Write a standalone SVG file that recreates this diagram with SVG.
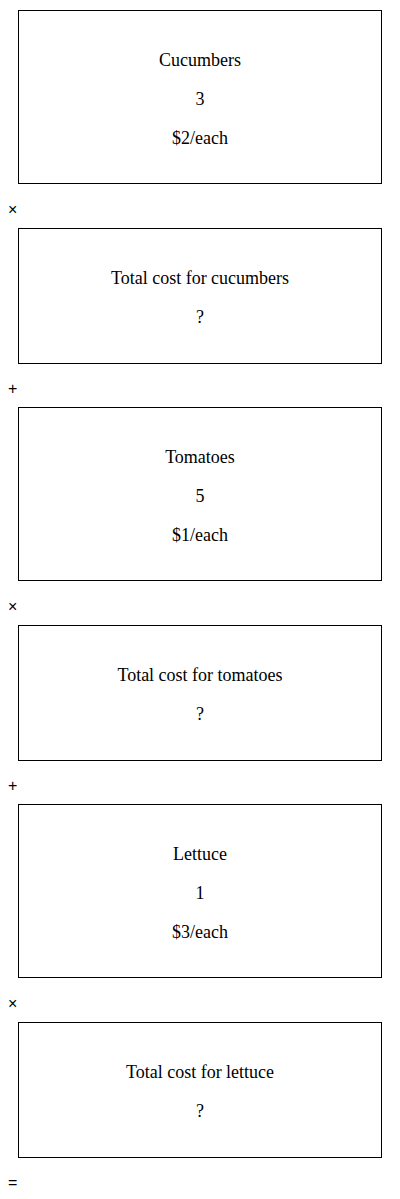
<svg xmlns="http://www.w3.org/2000/svg" width="400" height="1199" viewBox="0 0 400 1199">
<style>
.box{fill:#fff;stroke:#000;stroke-width:1}
.t{font-family:"Liberation Serif","Times New Roman",serif;font-size:18px;fill:#000;text-anchor:middle}
.op{font-family:"Liberation Sans",Arial,sans-serif;font-size:16px;fill:#000}
</style>
<rect x="0" y="0" width="400" height="1199" fill="#fff"/>
<g id="cucumbers">
<rect class="box" x="18.5" y="10.5" width="363" height="173"/>
<text class="t" x="200" y="65.5">Cucumbers</text>
<text class="t" x="200" y="104.5">3</text>
<text class="t" x="200" y="143.5">$2/each</text>
</g>
<g id="total-cucumbers">
<rect class="box" x="18.5" y="228.5" width="363" height="135"/>
<text class="t" x="200" y="283.5">Total cost for cucumbers</text>
<text class="t" x="200" y="322.5">?</text>
</g>
<g id="tomatoes">
<rect class="box" x="18.5" y="407.5" width="363" height="173"/>
<text class="t" x="200" y="462.5">Tomatoes</text>
<text class="t" x="200" y="501.5">5</text>
<text class="t" x="200" y="540.5">$1/each</text>
</g>
<g id="total-tomatoes">
<rect class="box" x="18.5" y="625.5" width="363" height="135"/>
<text class="t" x="200" y="680.5">Total cost for tomatoes</text>
<text class="t" x="200" y="719.5">?</text>
</g>
<g id="lettuce">
<rect class="box" x="18.5" y="804.5" width="363" height="173"/>
<text class="t" x="200" y="859.5">Lettuce</text>
<text class="t" x="200" y="898.5">1</text>
<text class="t" x="200" y="937.5">$3/each</text>
</g>
<g id="total-lettuce">
<rect class="box" x="18.5" y="1022.5" width="363" height="135"/>
<text class="t" x="200" y="1077.5">Total cost for lettuce</text>
<text class="t" x="200" y="1116.5">?</text>
</g>
<g id="operators">
<text class="op" x="8" y="214.5">×</text>
<text class="op" x="8" y="394">+</text>
<text class="op" x="8" y="611.5">×</text>
<text class="op" x="8" y="791">+</text>
<text class="op" x="8" y="1008.5">×</text>
<text class="op" x="8" y="1187.5">=</text>
</g>
</svg>
